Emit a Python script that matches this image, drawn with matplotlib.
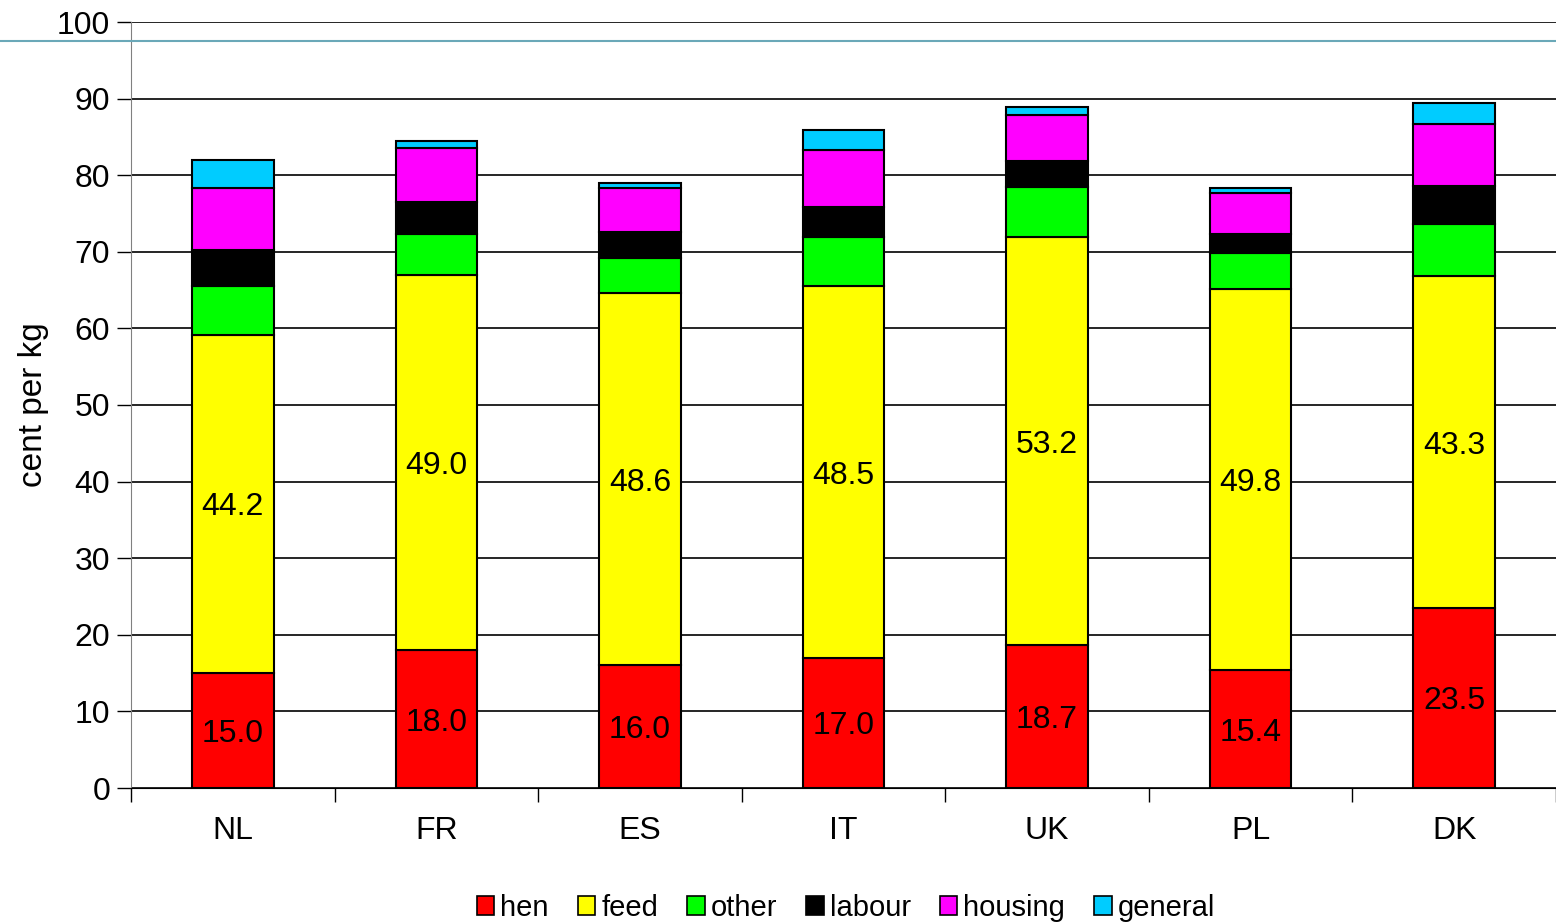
import matplotlib
matplotlib.use("Agg")
import matplotlib.pyplot as plt
from matplotlib.lines import Line2D
from matplotlib.patches import Patch
import numpy as np

plt.rcParams['font.family'] = ['Liberation Sans', 'DejaVu Sans']

countries = ["NL", "FR", "ES", "IT", "UK", "PL", "DK"]
hen     = [15.0, 18.0, 16.0, 17.0, 18.7, 15.4, 23.5]
feed    = [44.2, 49.0, 48.6, 48.5, 53.2, 49.8, 43.3]
other   = [6.3, 5.3, 4.6, 6.4, 6.6, 4.6, 6.8]
labour  = [4.7, 4.2, 3.4, 3.9, 3.4, 2.5, 5.0]
housing = [8.1, 7.0, 5.7, 7.5, 6.0, 5.4, 8.1]
general = [3.7, 1.0, 0.7, 2.6, 1.0, 0.6, 2.7]

series = [("hen", hen, "#ff0000"), ("feed", feed, "#ffff00"), ("other", other, "#00ff00"),
          ("labour", labour, "#000000"), ("housing", housing, "#ff00ff"), ("general", general, "#00ccff")]

fig = plt.figure(figsize=(15.56, 9.23), dpi=100)
ax = fig.add_axes([131/1556, 1-788/923, (1556-131)/1556, (788-22)/923])

x = np.arange(len(countries))
bottom = np.zeros(len(countries))
handles = []
for name, vals, col in series:
    v = np.array(vals)
    ax.bar(x, v, 0.4, bottom=bottom, color=col, edgecolor="black", linewidth=1.5, zorder=3)
    if name in ("hen", "feed"):
        for xi, b, vi in zip(x, bottom, v):
            ax.text(xi, b + vi/2, f"{vi:.1f}", ha="center", va="center_baseline", fontsize=23, zorder=4)
    bottom += v
    handles.append(Patch(facecolor=col, edgecolor="black", linewidth=1.2, label=name))

ax.set_xlim(-0.5, len(countries)-0.5)
ax.set_ylim(0, 100)
ax.set_yticks(np.arange(0, 101, 10))
ax.yaxis.grid(True, color="black", linewidth=1.2, zorder=0)
ax.set_axisbelow(True)
ax.tick_params(axis="y", labelsize=23, length=10, width=1, direction="out", pad=5)
ax.set_xticks(np.arange(-0.5, len(countries)-0.5+0.01, 1))
ax.set_xticklabels([])
ax.set_xticks(x, minor=True)
ax.set_xticklabels(countries, minor=True, fontsize=23)
ax.tick_params(axis="x", which="major", length=10, width=1, direction="out")
ax.tick_params(axis="x", which="minor", length=0, pad=20)
for s in ("top", "right"):
    ax.spines[s].set_visible(False)
ax.spines["left"].set_color("#808080")
ax.spines["bottom"].set_color("black")
ax.set_ylabel("cent per kg", fontsize=24, labelpad=6)

fig.add_artist(Line2D([0, 1], [1-41/923, 1-41/923], color="#6aa8b8", linewidth=1.5, transform=fig.transFigure))

fig.legend(handles=handles, loc="center", bbox_to_anchor=(846/1556, 1-908/923), ncol=6,
           frameon=False, fontsize=21, handlelength=0.6, handleheight=0.6, handletextpad=0.2,
           columnspacing=1.0, borderaxespad=0)

fig.savefig("out.png", dpi=100)
